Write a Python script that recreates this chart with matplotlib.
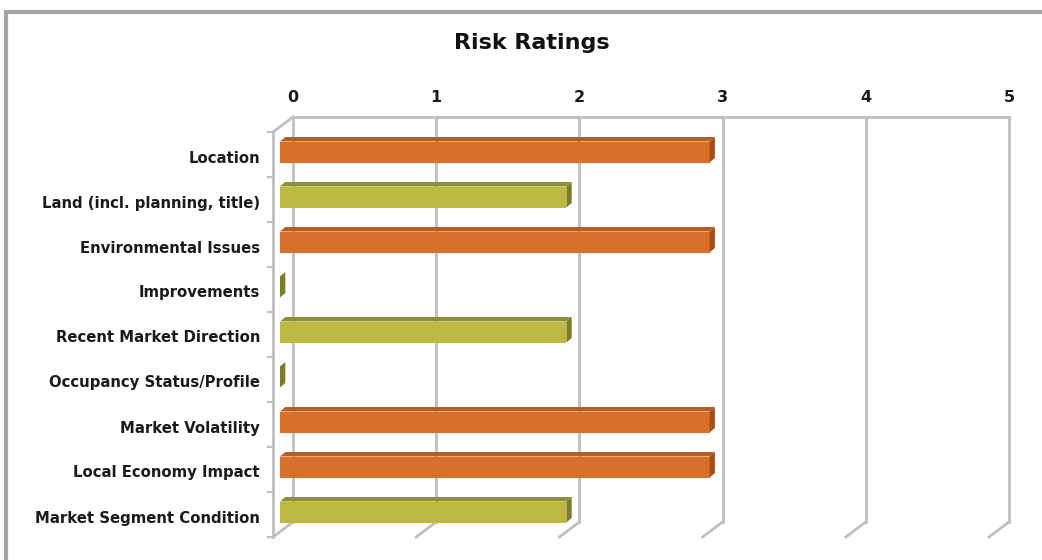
import matplotlib
matplotlib.use("Agg")
import matplotlib.pyplot as plt
from matplotlib.patches import Polygon, Rectangle

# data
categories = ["Location", "Land (incl. planning, title)", "Environmental Issues",
              "Improvements", "Recent Market Direction", "Occupancy Status/Profile",
              "Market Volatility", "Local Economy Impact", "Market Segment Condition"]
ratings = [3, 2, 3, 0, 2, 0, 3, 3, 2]
ticks = [0, 1, 2, 3, 4, 5]

# colours (front, top, side)
orange = ("#D97029", "#B65D20", "#A1501A")
olive = ("#BABA42", "#8F9031", "#7C7D28")
grid_c = "#BFBFBF"

# layout: pixels per unit of value / category
PX_X = 143.2
PX_Y = 45.0
X0 = 273      # pixel of value 0 on the front plane
Y0 = 154.5    # pixel of first category centre

fig = plt.figure(figsize=(10.42, 5.6), dpi=100)
ax = fig.add_axes([0, 0, 1, 1])
ax.set_xlim(-X0 / PX_X, (1042 - X0) / PX_X)
ax.set_ylim((560 - Y0) / PX_Y, -Y0 / PX_Y)
ax.axis("off")

# depth of the 3d box (back wall offset)
wdx, wdy = 20 / PX_X, -15 / PX_Y
top_c, bot_c = -0.5, len(categories) - 0.5

# back wall grid lines + floor diagonals
for t in ticks:
    ax.plot([t + wdx, t + wdx], [top_c + wdy, bot_c + wdy], color=grid_c, lw=2, zorder=1)
    ax.plot([t, t + wdx], [bot_c, bot_c + wdy], color=grid_c, lw=2, zorder=1)
    ax.text(t + wdx, top_c + wdy - 0.44, str(t), ha="center", va="center",
            fontsize=11.5, fontweight="bold", color="#1a1a1a")
ax.plot([wdx, ticks[-1] + wdx], [top_c + wdy, top_c + wdy], color=grid_c, lw=2, zorder=1)
ax.plot([0, wdx], [top_c, top_c + wdy], color=grid_c, lw=2, zorder=1)

# left axis with ticks
ax.plot([0, 0], [top_c, bot_c], color=grid_c, lw=2, zorder=1)
for k in range(len(categories) + 1):
    ax.plot([-5 / PX_X, 0], [top_c + k, top_c + k], color=grid_c, lw=1.5, zorder=1)

# bars
fx, fy = 7 / PX_X, -2.5 / PX_Y
ddx, ddy = 5.3 / PX_X, -4.5 / PX_Y
h = 10.5 / PX_Y
for i, (lab, v) in enumerate(zip(categories, ratings)):
    front, topc, side = orange if v >= 3 else olive
    x0, x1 = fx, fx + v
    yt, yb = i + fy - h, i + fy + h
    ax.add_patch(Rectangle((x0, yt), v, 2 * h, facecolor=front, edgecolor="none", zorder=3))
    ax.add_patch(Polygon([(x0, yt), (x1, yt), (x1 + ddx, yt + ddy), (x0 + ddx, yt + ddy)],
                         closed=True, facecolor=topc, edgecolor="none", zorder=3))
    ax.add_patch(Polygon([(x1, yt), (x1 + ddx, yt + ddy), (x1 + ddx, yb + ddy), (x1, yb)],
                         closed=True, facecolor=side, edgecolor="none", zorder=3))
    ax.text(-13 / PX_X, i + 3.5 / PX_Y, lab, ha="right", va="center",
            fontsize=10.7, fontweight="bold", color="#1a1a1a")

fig.text(532 / 1042, 1 - 43 / 560, "Risk Ratings", ha="center", va="center",
         fontsize=16, fontweight="bold", color="#111111")

# outer chart border
fig.patches.append(Rectangle((6 / 1042, -0.1), 1.2, 1.1 - 12 / 560, transform=fig.transFigure,
                             facecolor="none", edgecolor="#A6A6A6", lw=3))

fig.savefig("out.png", dpi=100)
